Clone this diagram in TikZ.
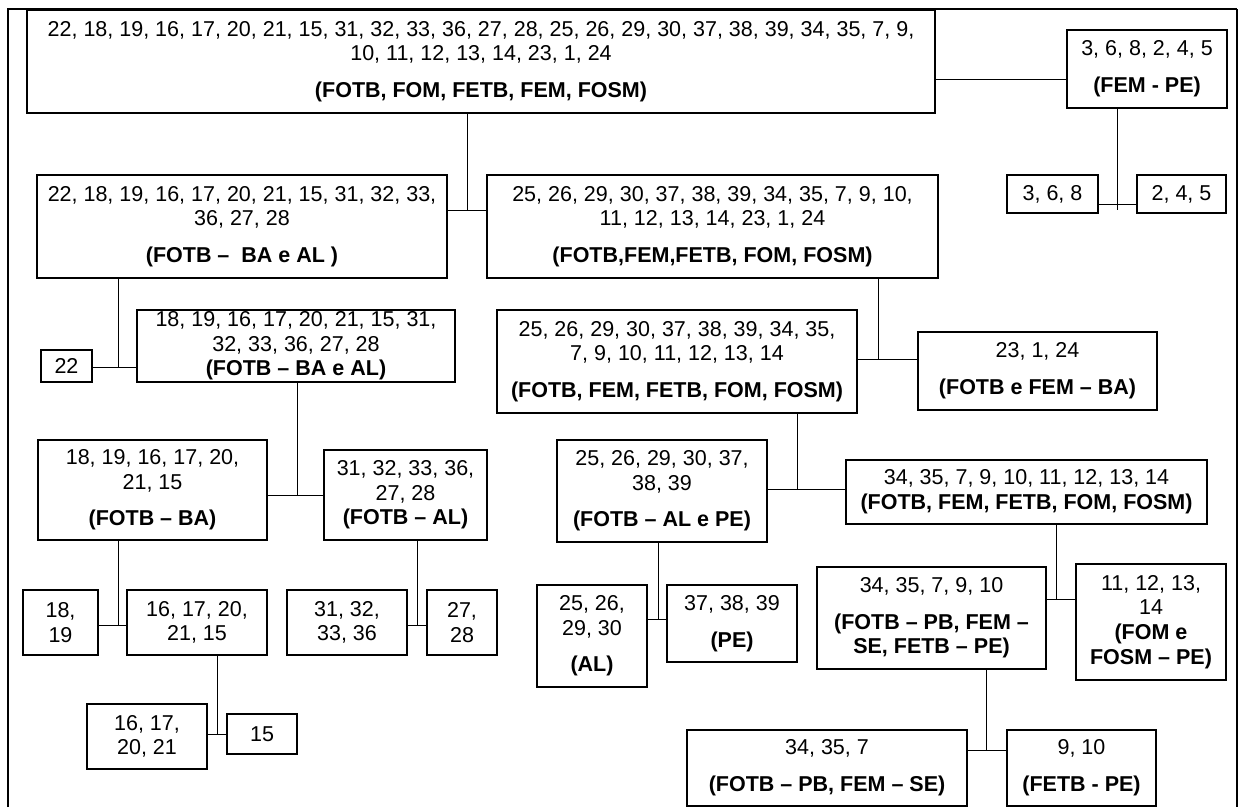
\documentclass[tikz,border=0pt]{standalone}
\usepackage{fontspec}
\setmainfont{Liberation Sans}
\newcommand\boxfont{\fontsize{21.5}{24.7}\selectfont}
\newcommand\gap{\\[12pt]}
\begin{document}
\begin{tikzpicture}[x=1pt,y=-1pt,
  box/.style={draw=black, line width=1.3pt, inner sep=0pt, align=center, font=\boxfont},
  conn/.style={draw=black, line width=1pt}]
\useasboundingbox (0,0) rectangle (1244,807);
% outer frame
\draw[line width=2.6pt] (8,807) -- (8,9) -- (1237,9);
\draw[line width=1.5pt] (1237,9) -- (1237,807);
% boxes
\node[box, minimum width=908pt, minimum height=103pt] (A) at (481,61.5)
  {22, 18, 19, 16, 17, 20, 21, 15, 31, 32, 33, 36, 27, 28, 25, 26, 29, 30, 37, 38, 39, 34, 35, 7, 9,\\
   10, 11, 12, 13, 14, 23, 1, 24\gap \textbf{(FOTB, FOM, FETB, FEM, FOSM)}};
\node[box, minimum width=160pt, minimum height=78pt] (B) at (1147,69)
  {3, 6, 8, 2, 4, 5\gap \textbf{(FEM - PE)}};
\node[box, minimum width=91pt, minimum height=38pt] (C) at (1052.5,194) {3, 6, 8};
\node[box, minimum width=89pt, minimum height=38pt] (D) at (1181.5,194) {2, 4, 5};
\node[box, minimum width=410pt, minimum height=103pt] (E) at (242,226.5)
  {22, 18, 19, 16, 17, 20, 21, 15, 31, 32, 33,\\ 36, 27, 28\gap \textbf{(FOTB --\ \ BA e AL )}};
\node[box, minimum width=451pt, minimum height=103pt] (F) at (712.5,226.5)
  {25, 26, 29, 30, 37, 38, 39, 34, 35, 7, 9, 10,\\ 11, 12, 13, 14, 23, 1, 24\gap \textbf{(FOTB,FEM,FETB, FOM, FOSM)}};
\node[box, minimum width=51pt, minimum height=32pt] (G) at (66.5,366) {22};
\node[box, minimum width=318pt, minimum height=72pt] (H) at (296,346)
  {18, 19, 16, 17, 20, 21, 15, 31,\\ 32, 33, 36, 27, 28\\ \textbf{(FOTB -- BA e AL)}};
\node[box, minimum width=229pt, minimum height=100pt] (I) at (152.5,490)
  {18, 19, 16, 17, 20,\\ 21, 15\gap \textbf{(FOTB -- BA)}};
\node[box, minimum width=163pt, minimum height=90pt] (J) at (405.5,495)
  {31, 32, 33, 36,\\ 27, 28\\ \textbf{(FOTB -- AL)}};
\node[box, minimum width=75pt, minimum height=65pt] (K) at (60.5,622.5) {18,\\ 19};
\node[box, minimum width=140pt, minimum height=65pt] (L) at (197,622.5) {16, 17, 20,\\ 21, 15};
\node[box, minimum width=120pt, minimum height=65pt] (M) at (347,622.5) {31, 32,\\ 33, 36};
\node[box, minimum width=70pt, minimum height=65pt] (N) at (462,622.5) {27,\\ 28};
\node[box, minimum width=120pt, minimum height=65pt] (O) at (147,736.5) {16, 17,\\ 20, 21};
\node[box, minimum width=70pt, minimum height=40pt] (P) at (262,734) {15};
\node[box, minimum width=360pt, minimum height=103pt] (Q) at (677,361.5)
  {25, 26, 29, 30, 37, 38, 39, 34, 35,\\ 7, 9, 10, 11, 12, 13, 14\gap \textbf{(FOTB, FEM, FETB, FOM, FOSM)}};
\node[box, minimum width=239pt, minimum height=78pt] (R) at (1037.5,371)
  {23, 1, 24\gap \textbf{(FOTB e FEM -- BA)}};
\node[box, minimum width=210pt, minimum height=102pt] (S) at (662,491)
  {25, 26, 29, 30, 37,\\ 38, 39\gap \textbf{(FOTB -- AL e PE)}};
\node[box, minimum width=361pt, minimum height=64pt] (T) at (1026.5,492)
  {34, 35, 7, 9, 10, 11, 12, 13, 14\\ \textbf{(FOTB, FEM, FETB, FOM, FOSM)}};
\node[box, minimum width=110pt, minimum height=102pt] (U) at (592,636)
  {25, 26,\\ 29, 30\gap \textbf{(AL)}};
\node[box, minimum width=130pt, minimum height=77pt] (V) at (732,623.5)
  {37, 38, 39\gap \textbf{(PE)}};
\node[box, minimum width=229pt, minimum height=102pt] (W) at (931.5,618)
  {34, 35, 7, 9, 10\gap \textbf{(FOTB -- PB, FEM --}\\ \textbf{SE, FETB -- PE)}};
\node[box, minimum width=150pt, minimum height=116pt] (X) at (1151,622)
  {11, 12, 13,\\ 14\\ \textbf{(FOM e}\\ \textbf{FOSM -- PE)}};
\node[box, minimum width=280pt, minimum height=76pt] (Y) at (827,768)
  {34, 35, 7\gap \textbf{(FOTB -- PB, FEM -- SE)}};
\node[box, minimum width=149pt, minimum height=76pt] (Z) at (1081.5,768)
  {9, 10\gap \textbf{(FETB - PE)}};
% junctions
\coordinate (jA) at (467,210);
\coordinate (jB) at (1117,204);
\coordinate (jBend) at (1117,210);
\coordinate (jE) at (118,367);
\coordinate (jF) at (878,359);
\coordinate (jH) at (297,495);
\coordinate (jI) at (118,625);
\coordinate (jJ) at (417,625);
\coordinate (jL) at (217,734);
\coordinate (jQ) at (797,489);
\coordinate (jS) at (658,619);
\coordinate (jT) at (1056,599);
\coordinate (jW) at (986,750);
\coordinate (jAB) at (1000,79);
% connectors
\draw[conn] (A.east |- jAB) -- (B.west |- jAB);
\draw[conn] (A.south -| jA) -- (jA);
\draw[conn] (E.east |- jA) -- (F.west |- jA);
\draw[conn] (B.south -| jB) -- (jBend);
\draw[conn] (C.east |- jB) -- (D.west |- jB);
\draw[conn] (E.south -| jE) -- (jE);
\draw[conn] (G.east |- jE) -- (H.west |- jE);
\draw[conn] (F.south -| jF) -- (jF);
\draw[conn] (Q.east |- jF) -- (R.west |- jF);
\draw[conn] (H.south -| jH) -- (jH);
\draw[conn] (I.east |- jH) -- (J.west |- jH);
\draw[conn] (I.south -| jI) -- (jI);
\draw[conn] (K.east |- jI) -- (L.west |- jI);
\draw[conn] (J.south -| jJ) -- (jJ);
\draw[conn] (M.east |- jJ) -- (N.west |- jJ);
\draw[conn] (L.south -| jL) -- (jL);
\draw[conn] (O.east |- jL) -- (P.west |- jL);
\draw[conn] (Q.south -| jQ) -- (jQ);
\draw[conn] (S.east |- jQ) -- (T.west |- jQ);
\draw[conn] (S.south -| jS) -- (jS);
\draw[conn] (U.east |- jS) -- (V.west |- jS);
\draw[conn] (T.south -| jT) -- (jT);
\draw[conn] (W.east |- jT) -- (X.west |- jT);
\draw[conn] (W.south -| jW) -- (jW);
\draw[conn] (Y.east |- jW) -- (Z.west |- jW);
\end{tikzpicture}
\end{document}
